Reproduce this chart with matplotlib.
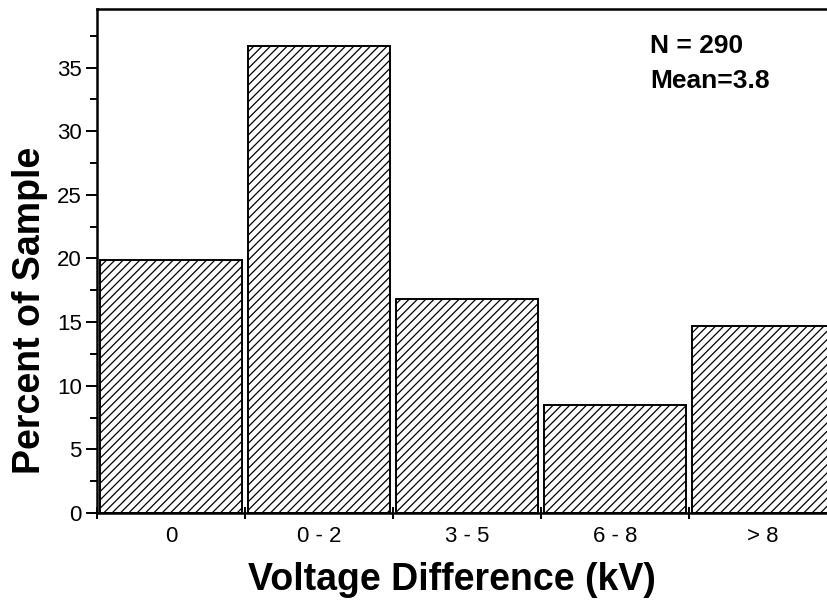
import matplotlib
matplotlib.use("Agg")
import matplotlib.pyplot as plt
import numpy as np

# data
categories = ["0", "0 - 2", "3 - 5", "6 - 8", "> 8"]
percent = [19.9, 36.7, 16.8, 8.5, 14.7]
n_text = "N = 290"
mean_text = "Mean=3.8"

plt.rcParams["font.family"] = ["Liberation Sans", "DejaVu Sans"]
plt.rcParams["hatch.linewidth"] = 0.9

fig = plt.figure(figsize=(8.28, 6.01), dpi=100)
W, H = 828, 601
ax = fig.add_axes([97 / W, (H - 513) / H, 740 / W, 504 / H])

x = np.arange(len(categories))
ax.bar(x, percent, width=0.955, color="white", edgecolor="black",
       linewidth=1.4, hatch="////")

ax.set_xlim(-0.5, len(categories) - 0.5)
ax.set_ylim(0, 39.6)

# ticks at bin edges, labels at bin centres
ax.set_xticks(np.arange(len(categories) + 1) - 0.5)
ax.set_xticklabels([])
ax.set_xticks(x, minor=True)
ax.set_xticklabels(categories, minor=True, fontsize=16)
ax.tick_params(axis="x", which="major", direction="inout", length=9, width=1.4)
ax.tick_params(axis="x", which="minor", length=0, pad=9)

ax.set_yticks(np.arange(0, 40, 5))
ax.set_yticks(np.arange(2.5, 40, 5), minor=True)
ax.tick_params(axis="y", which="major", direction="out", length=8, width=1.4, labelsize=16, pad=3)
ax.tick_params(axis="y", which="minor", direction="out", length=5, width=1.4)

for s in ax.spines.values():
    s.set_linewidth(1.8)

ax.set_xlabel("Voltage Difference (kV)", fontsize=27, fontweight="bold", va="center")
ax.set_ylabel("Percent of Sample", fontsize=27, fontweight="bold", va="center")
ax.xaxis.set_label_coords(0.48, -0.133)
ax.yaxis.set_label_coords(-0.0905, 0.403)

ax.text(0.747, 0.926, n_text, transform=ax.transAxes, fontsize=19,
        fontweight="bold", va="center")
ax.text(0.747, 0.857, mean_text, transform=ax.transAxes, fontsize=19,
        fontweight="bold", va="center")

fig.savefig("out.png", dpi=100)
